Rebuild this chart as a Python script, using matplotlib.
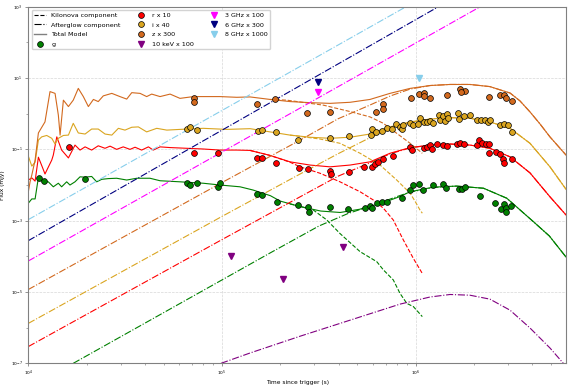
import numpy as np
import matplotlib
matplotlib.use("Agg")
import matplotlib.pyplot as plt
from matplotlib.ticker import FixedLocator, LogFormatterSciNotation, LogLocator, NullFormatter
from matplotlib.lines import Line2D

# ---------------- data (log10 time [s], log10 flux [mJy]) ----------------
# g band
g_total_lt = [4.000, 4.018, 4.035, 4.052, 4.077, 4.103, 4.129, 4.155, 4.172, 4.198, 4.215, 4.241, 4.267, 4.293,
              4.327, 4.353, 4.379, 4.413, 4.456, 4.508, 4.560, 4.628, 4.680, 4.783, 4.903, 4.990, 5.093, 5.160,
              5.250, 5.300, 5.400, 5.510, 5.610, 5.710, 5.830, 5.920, 5.970, 6.090, 6.210, 6.350, 6.470, 6.610,
              6.690, 6.776]
g_total_lf = [-2.51, -2.39, -2.39, -1.79, -1.91, -1.91, -2.05, -1.95, -2.05, -1.91, -2.00, -1.91, -1.77, -1.78,
              -1.76, -1.91, -1.84, -1.82, -1.81, -1.86, -1.81, -1.81, -1.88, -1.91, -1.95, -2.00, -2.05, -2.14,
              -2.30, -2.45, -2.60, -2.73, -2.77, -2.68, -2.50, -2.32, -2.19, -2.06, -2.03, -2.09, -2.37, -3.04,
              -3.43, -4.02]
g_kn_lt = [5.351, 5.418, 5.471, 5.541, 5.609, 5.713, 5.799, 5.833, 5.884, 5.919, 5.954, 5.988, 6.034]
g_kn_lf = [-2.53, -2.62, -2.70, -2.98, -3.36, -3.87, -4.15, -4.38, -4.66, -5.04, -5.32, -5.41, -5.69]
g_ag_lt = [4.232, 5.250, 5.500, 5.650, 5.800, 5.900, 5.970, 6.090, 6.210, 6.350, 6.470, 6.610, 6.690, 6.776]
g_ag_lf = [-7.00, -3.90, -3.15, -2.80, -2.53, -2.33, -2.20, -2.07, -2.03, -2.09, -2.37, -3.04, -3.43, -4.02]
g_obs_lt = [4.057, 4.081, 4.293, 4.818, 4.835, 4.869, 4.981, 4.990, 5.181, 5.205, 5.282, 5.394, 5.446, 5.451,
            5.558, 5.652, 5.738, 5.764, 5.773, 5.799, 5.824, 5.850, 5.928, 5.971, 5.985, 6.019, 6.039, 6.087,
            6.143, 6.156, 6.224, 6.239, 6.254, 6.330, 6.409, 6.438, 6.458, 6.466, 6.464, 6.494]
g_obs_lf = [-1.80, -1.89, -1.83, -1.94, -2.00, -1.95, -2.05, -1.95, -2.25, -2.27, -2.47, -2.56, -2.63, -2.75,
            -2.61, -2.68, -2.65, -2.59, -2.65, -2.51, -2.47, -2.47, -2.35, -2.14, -1.99, -1.98, -2.14, -2.01,
            -1.96, -2.07, -2.11, -2.10, -2.06, -2.31, -2.51, -2.68, -2.52, -2.65, -2.75, -2.58]

# r band (x10)
r_total_lt = [4.000, 4.018, 4.035, 4.052, 4.074, 4.086, 4.103, 4.121, 4.129, 4.147, 4.172, 4.207, 4.241, 4.267,
              4.293, 4.327, 4.361, 4.396, 4.422, 4.456, 4.490, 4.525, 4.551, 4.585, 4.620, 4.645, 4.680, 4.732,
              4.818, 4.903, 4.990, 5.076, 5.145, 5.248, 5.351, 5.454, 5.558, 5.661, 5.764, 5.867, 5.971, 6.074,
              6.177, 6.280, 6.383, 6.487, 6.590, 6.693, 6.776]
r_total_lf = [-1.86, -1.80, -1.89, -1.22, -1.52, -1.69, -1.50, -1.30, -1.16, -0.65, -1.02, -1.24, -0.88, -1.02,
              -0.93, -1.02, -0.90, -0.97, -0.91, -1.00, -0.93, -1.00, -0.94, -1.02, -0.93, -1.02, -0.93, -0.95,
              -0.97, -0.99, -1.02, -1.02, -1.03, -1.17, -1.35, -1.44, -1.49, -1.44, -1.35, -1.11, -0.95, -0.88,
              -0.85, -0.88, -0.97, -1.21, -1.66, -2.33, -2.84]
r_kn_lt = [5.145, 5.248, 5.351, 5.403, 5.506, 5.609, 5.713, 5.781, 5.833, 5.884, 5.936, 5.988, 6.034]
r_kn_lf = [-1.03, -1.17, -1.36, -1.49, -1.67, -1.91, -2.19, -2.42, -2.65, -2.98, -3.54, -4.06, -4.48]
r_ag_lt = [4.000, 5.000, 5.400, 5.600, 5.750, 5.870, 5.971, 6.074, 6.177, 6.280, 6.383, 6.487, 6.590, 6.693, 6.776]
r_ag_lf = [-6.53, -3.53, -2.34, -1.75, -1.41, -1.12, -0.96, -0.88, -0.85, -0.88, -0.97, -1.21, -1.66, -2.33, -2.84]
r_obs_lt = [4.210, 4.855, 4.981, 5.179, 5.205, 5.279, 5.399, 5.446, 5.558, 5.561, 5.657, 5.735, 5.773, 5.790,
            5.804, 5.830, 5.884, 5.973, 5.983, 6.043, 6.057, 6.076, 6.084, 6.110, 6.141, 6.160, 6.211, 6.228,
            6.249, 6.316, 6.328, 6.341, 6.363, 6.378, 6.380, 6.412, 6.435, 6.451, 6.458, 6.496]
r_obs_lf = [-0.94, -1.10, -1.09, -1.25, -1.25, -1.39, -1.53, -1.55, -1.60, -1.69, -1.63, -1.50, -1.49, -1.42,
            -1.36, -1.28, -1.19, -0.92, -1.02, -0.96, -0.93, -0.89, -0.99, -0.86, -0.89, -0.90, -0.86, -0.82,
            -0.86, -0.89, -0.75, -0.82, -0.86, -0.85, -1.09, -1.06, -1.13, -1.26, -1.39, -1.28]

# i band (x40)
i_total_lt = [4.000, 4.018, 4.035, 4.052, 4.069, 4.095, 4.121, 4.138, 4.155, 4.181, 4.207, 4.232, 4.258, 4.293,
              4.327, 4.361, 4.396, 4.431, 4.465, 4.499, 4.534, 4.568, 4.611, 4.663, 4.715, 4.783, 4.903, 5.025,
              5.145, 5.248, 5.351, 5.454, 5.558, 5.661, 5.764, 5.867, 5.971, 6.074, 6.177, 6.280, 6.383, 6.487,
              6.590, 6.693, 6.776]
i_total_lf = [-1.19, -1.47, -1.36, -0.74, -0.65, -0.61, -0.69, -0.85, -0.69, -0.61, -0.60, -0.27, -0.54, -0.57,
              -0.43, -0.43, -0.57, -0.60, -0.41, -0.46, -0.38, -0.37, -0.51, -0.41, -0.46, -0.44, -0.41, -0.44,
              -0.42, -0.51, -0.60, -0.66, -0.69, -0.66, -0.57, -0.37, -0.23, -0.15, -0.11, -0.13, -0.23, -0.41,
              -0.83, -1.49, -2.12]
i_kn_lt = [5.351, 5.506, 5.609, 5.713, 5.816, 5.902, 5.971, 5.996, 6.022, 6.034]
i_kn_lf = [-0.60, -0.71, -0.83, -1.11, -1.44, -1.86, -2.23, -2.45, -2.70, -2.79]
i_ag_lt = [4.000, 5.000, 5.400, 5.600, 5.750, 5.870, 5.971, 6.074, 6.177, 6.280, 6.383, 6.487, 6.590, 6.693, 6.776]
i_ag_lf = [-5.88, -2.88, -1.70, -1.12, -0.71, -0.40, -0.24, -0.15, -0.11, -0.13, -0.23, -0.41, -0.83, -1.49, -2.12]
i_obs_lt = [4.818, 4.835, 4.869, 5.185, 5.208, 5.279, 5.394, 5.558, 5.657, 5.769, 5.776, 5.795, 5.825, 5.850,
            5.876, 5.896, 5.919, 5.928, 5.933, 5.973, 5.988, 6.014, 6.020, 6.043, 6.057, 6.076, 6.087, 6.119,
            6.125, 6.142, 6.151, 6.160, 6.168, 6.220, 6.223, 6.247, 6.278, 6.316, 6.339, 6.360, 6.373, 6.383,
            6.435, 6.456, 6.474, 6.496]
i_obs_lf = [-0.43, -0.38, -0.46, -0.49, -0.46, -0.51, -0.74, -0.67, -0.63, -0.60, -0.43, -0.52, -0.49, -0.39,
            -0.44, -0.30, -0.37, -0.42, -0.32, -0.26, -0.32, -0.30, -0.11, -0.23, -0.23, -0.21, -0.25, -0.03,
            -0.18, -0.07, -0.21, -0.01, -0.12, 0.03, -0.16, -0.07, -0.03, -0.19, -0.19, -0.19, -0.23, -0.18,
            -0.33, -0.28, -0.32, -0.52]

# z band (x300)
z_total_lt = [4.000, 4.009, 4.018, 4.035, 4.052, 4.086, 4.112, 4.138, 4.155, 4.164, 4.181, 4.207, 4.232, 4.258,
              4.284, 4.310, 4.336, 4.361, 4.387, 4.431, 4.473, 4.508, 4.534, 4.577, 4.611, 4.637, 4.680, 4.732,
              4.783, 4.852, 4.921, 4.990, 5.076, 5.145, 5.248, 5.351, 5.454, 5.558, 5.661, 5.764, 5.867, 5.971,
              6.074, 6.177, 6.280, 6.383, 6.487, 6.538, 6.590, 6.642, 6.693, 6.776]
z_total_lf = [-2.19, -1.91, -1.72, -1.30, -0.54, -0.23, 0.62, 0.57, -0.04, -0.60, 0.38, 0.20, 0.38, 0.71,
              0.48, 0.20, 0.40, 0.34, 0.50, 0.57, 0.48, 0.41, 0.59, 0.57, 0.48, 0.55, 0.48, 0.55,
              0.43, 0.48, 0.48, 0.48, 0.46, 0.47, 0.40, 0.34, 0.31, 0.29, 0.32, 0.40, 0.57, 0.71,
              0.79, 0.82, 0.82, 0.76, 0.58, 0.36, 0.05, -0.29, -0.65, -1.16]
z_kn_lt = [5.248, 5.334, 5.523, 5.661, 5.764, 5.833, 5.902, 5.971, 6.034]
z_kn_lf = [0.40, 0.38, 0.24, 0.06, -0.09, -0.27, -0.55, -0.83, -1.11]
z_ag_lt = [4.000, 5.000, 5.400, 5.600, 5.750, 5.870, 5.971, 6.074, 6.177, 6.280, 6.383, 6.487, 6.538, 6.590,
           6.642, 6.693, 6.776]
z_ag_lf = [-4.93, -1.93, -0.75, -0.14, 0.21, 0.50, 0.69, 0.79, 0.82, 0.82, 0.76, 0.58, 0.36, 0.05,
           -0.29, -0.65, -1.16]
z_obs_lt = [4.853, 4.855, 5.179, 5.274, 5.440, 5.558, 5.795, 5.830, 5.830, 5.976, 6.019, 6.043, 6.043, 6.076,
            6.160, 6.229, 6.252, 6.232, 6.380, 6.437, 6.458, 6.468, 6.496]
z_obs_lf = [0.43, 0.32, 0.26, 0.41, 0.03, 0.04, 0.06, 0.26, 0.12, 0.45, 0.55, 0.59, 0.50, 0.45,
            0.52, 0.68, 0.64, 0.62, 0.47, 0.52, 0.52, 0.45, 0.37]

# X-ray 10 keV (x100)
x_ag_lt = [4.995, 5.145, 5.403, 5.661, 5.919, 6.074, 6.177, 6.280, 6.383, 6.487, 6.590, 6.693, 6.762]
x_ag_lf = [-7.00, -6.71, -6.24, -5.79, -5.34, -5.14, -5.07, -5.09, -5.20, -5.51, -6.01, -6.57, -7.00]
x_obs_lt = [5.047, 5.317, 5.623]
x_obs_lf = [-3.98, -4.64, -3.73]

# Radio
r3_ag_lt = [4.000, 6.333]
r3_ag_lf = [-4.13, 3.00]
r3_obs_lt = [5.494]
r3_obs_lf = [0.60]
r6_ag_lt = [4.000, 6.117]
r6_ag_lf = [-3.56, 3.00]
r6_obs_lt = [5.494]
r6_obs_lf = [0.88]
r8_ag_lt = [4.000, 5.950]
r8_ag_lf = [-2.97, 3.00]
r8_obs_lt = [6.015]
r8_obs_lf = [0.99]


def p(a):
    return 10 ** np.asarray(a, dtype=float)


fig = plt.figure(figsize=(5.71, 3.91), dpi=100)
ax = fig.add_axes([0.0496, 0.0708, 0.9417, 0.912])

LW = 0.8
bands = [
    ("green", g_total_lt, g_total_lf, g_kn_lt, g_kn_lf, g_ag_lt, g_ag_lf),
    ("red", r_total_lt, r_total_lf, r_kn_lt, r_kn_lf, r_ag_lt, r_ag_lf),
    ("goldenrod", i_total_lt, i_total_lf, i_kn_lt, i_kn_lf, i_ag_lt, i_ag_lf),
    ("chocolate", z_total_lt, z_total_lf, z_kn_lt, z_kn_lf, z_ag_lt, z_ag_lf),
]
for c, tlt, tlf, klt, klf, alt, alf in bands:
    ax.plot(p(alt), p(alf), color=c, ls="-.", lw=LW)
    ax.plot(p(klt), p(klf), color=c, ls="--", lw=LW)
    ax.plot(p(tlt), p(tlf), color=c, ls="-", lw=LW)

ax.plot(p(x_ag_lt), p(x_ag_lf), color="purple", ls="-.", lw=LW)
ax.plot(p(r3_ag_lt), p(r3_ag_lf), color="magenta", ls="-.", lw=LW)
ax.plot(p(r6_ag_lt), p(r6_ag_lf), color="navy", ls="-.", lw=LW)
ax.plot(p(r8_ag_lt), p(r8_ag_lf), color="skyblue", ls="-.", lw=LW)

MS = 4.2
ax.plot(p(g_obs_lt), p(g_obs_lf), "o", color="green", mec="black", mew=0.5, ms=MS, ls="none")
ax.plot(p(r_obs_lt), p(r_obs_lf), "o", color="red", mec="black", mew=0.5, ms=MS, ls="none")
ax.plot(p(i_obs_lt), p(i_obs_lf), "o", color="goldenrod", mec="black", mew=0.5, ms=MS, ls="none")
ax.plot(p(z_obs_lt), p(z_obs_lf), "o", color="chocolate", mec="black", mew=0.5, ms=MS, ls="none")
ax.plot(p(x_obs_lt), p(x_obs_lf), "v", color="purple", ms=MS, ls="none")
ax.plot(p(r3_obs_lt), p(r3_obs_lf), "v", color="magenta", ms=MS, ls="none")
ax.plot(p(r6_obs_lt), p(r6_obs_lf), "v", color="navy", ms=MS, ls="none")
ax.plot(p(r8_obs_lt), p(r8_obs_lf), "v", color="skyblue", ms=MS, ls="none")

ax.set_xscale("log")
ax.set_yscale("log")
ax.set_xlim(1e4, 10 ** 6.776)
ax.set_ylim(1e-7, 1e3)
ax.yaxis.set_major_locator(FixedLocator([1e-7, 1e-5, 1e-3, 1e-1, 1e1, 1e3]))
ax.yaxis.set_major_formatter(LogFormatterSciNotation())
ax.yaxis.set_minor_locator(FixedLocator([1e-6, 1e-4, 1e-2, 1e0, 1e2]))
ax.yaxis.set_minor_formatter(NullFormatter())
ax.xaxis.set_major_locator(LogLocator(base=10))
ax.xaxis.set_minor_locator(LogLocator(base=10, subs=np.arange(2, 10)))
ax.xaxis.set_minor_formatter(NullFormatter())
ax.tick_params(axis="both", which="major", labelsize=3.2, length=2.5, width=0.5, color="dimgray", pad=1.5)
ax.tick_params(axis="both", which="minor", length=1.5, width=0.4, color="dimgray")
ax.grid(True, which="major", ls="--", lw=0.5, color="lightgray", alpha=0.9)
for s in ax.spines.values():
    s.set_color("gray")
    s.set_linewidth(0.8)

ax.set_xlabel("Time since trigger (s)", fontsize=4.2, labelpad=1)
ax.set_ylabel("Flux (mJy)", fontsize=4.2, labelpad=4)

handles = [
    Line2D([], [], color="black", ls="--", lw=LW, label="Kilonova component"),
    Line2D([], [], color="black", ls="-.", lw=LW, label="Afterglow component"),
    Line2D([], [], color="gray", ls="-", lw=1.0, label="Total Model"),
    Line2D([], [], color="green", marker="o", mec="black", mew=0.5, ms=MS, ls="none", label="g"),
    Line2D([], [], color="red", marker="o", mec="black", mew=0.5, ms=MS, ls="none", label="r x 10"),
    Line2D([], [], color="goldenrod", marker="o", mec="black", mew=0.5, ms=MS, ls="none", label="i x 40"),
    Line2D([], [], color="chocolate", marker="o", mec="black", mew=0.5, ms=MS, ls="none", label="z x 300"),
    Line2D([], [], color="purple", marker="v", ms=MS, ls="none", label="10 keV x 100"),
    Line2D([], [], color="magenta", marker="v", ms=MS, ls="none", label="3 GHz x 100"),
    Line2D([], [], color="navy", marker="v", ms=MS, ls="none", label="6 GHz x 300"),
    Line2D([], [], color="skyblue", marker="v", ms=MS, ls="none", label="8 GHz x 1000"),
]
ax.legend(handles=handles, loc="upper left", ncol=3, fontsize=4.6, frameon=True,
          handlelength=1.8, handletextpad=0.9, borderaxespad=0.5, columnspacing=2.2, labelspacing=0.65,
          edgecolor="lightgray", framealpha=1.0)

fig.savefig("out.png", dpi=100)
